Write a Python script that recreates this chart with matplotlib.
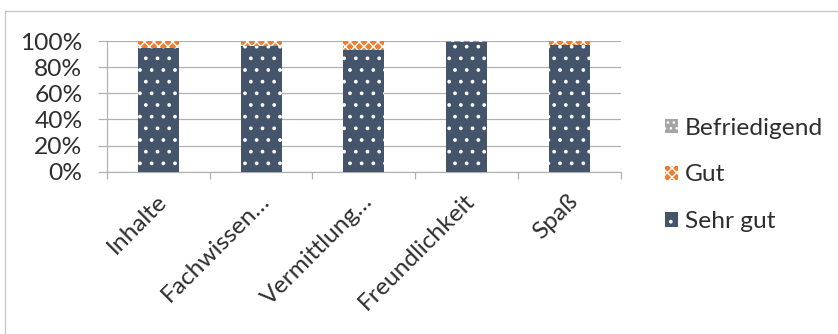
import numpy as np
import matplotlib
matplotlib.use("Agg")
import matplotlib.pyplot as plt
from matplotlib.transforms import ScaledTranslation
from matplotlib.lines import Line2D

# Survey ratings per category (share of answers)
categories = ["Inhalte", "Fachwissen…", "Vermittlung…", "Freundlichkeit", "Spaß"]
sehr_gut = [0.95, 0.96, 0.93, 0.99, 0.97]
gut = [0.05, 0.04, 0.07, 0.01, 0.03]
befriedigend = [0.0, 0.0, 0.0, 0.0, 0.0]
series_names = ["Sehr gut", "Gut", "Befriedigend"]
y_ticks = [0, 0.2, 0.4, 0.6, 0.8, 1.0]
y_tick_labels = ["0%", "20%", "40%", "60%", "80%", "100%"]

DPI = 140
W, H = 838, 334


def pt(px):
    """Convert a size in output pixels to points."""
    return px * 72.0 / DPI


plt.rcParams["font.family"] = ["Lato", "DejaVu Sans"]
plt.rcParams["hatch.linewidth"] = pt(1.4)
TEXT = "#2e2e2e"
GRID = "#b0b0b0"
FS = pt(24.5)
LW = pt(1.2)

fig = plt.figure(figsize=(W / DPI, H / DPI), dpi=DPI)

# outer chart frame
for xs, ys in (([5 / W, 1.0], [1 - 11 / H, 1 - 11 / H]), ([5 / W, 5 / W], [1 - 11 / H, 0.0])):
    fig.add_artist(Line2D(xs, ys, transform=fig.transFigure, color="#c4c4c4", lw=LW))

x0, x1, ytop, ybot = 107, 620.7, 41, 171.7
ax = fig.add_axes([x0 / W, (H - ybot) / H, (x1 - x0) / W, (ybot - ytop) / H])

x = np.arange(len(categories))
width = 0.40
b1 = ax.bar(x, sehr_gut, width, color="#44546A", edgecolor="white", linewidth=0,
            hatch="..", label=series_names[0], zorder=3)
b2 = ax.bar(x, gut, width, bottom=sehr_gut, color="#ED7D31", edgecolor="white",
            linewidth=0, hatch="xxxxx", label=series_names[1], zorder=3)
bottom3 = np.array(sehr_gut) + np.array(gut)
b3 = ax.bar(x, befriedigend, width, bottom=bottom3, color="#A5A5A5", edgecolor="white",
            linewidth=0, hatch="....", label=series_names[2], zorder=3)

ax.set_xlim(-0.5, len(categories) - 0.5)
ax.set_ylim(0, 1.0)
ax.set_yticks(y_ticks)
ax.set_yticklabels(y_tick_labels)
ax.yaxis.grid(True, color=GRID, lw=LW, zorder=0)
ax.set_axisbelow(True)

# category boundaries carry the tick marks
ax.set_xticks(np.arange(-0.5, len(categories), 1.0))
ax.set_xticklabels([])
ax.tick_params(axis="x", length=pt(7), width=LW, color=GRID, direction="out")
ax.tick_params(axis="y", length=pt(9.5), width=LW, color=GRID, direction="out",
               pad=pt(15), labelsize=FS, labelcolor=TEXT)

for s in ("top", "right"):
    ax.spines[s].set_visible(False)
for s in ("left", "bottom"):
    ax.spines[s].set_color(GRID)
    ax.spines[s].set_linewidth(LW)

# rotated category labels
for i, name in enumerate(categories):
    off = ScaledTranslation(5 / DPI, -26 / DPI, fig.dpi_scale_trans)
    ax.text(i, 0, name, transform=ax.get_xaxis_transform() + off, rotation=45,
            rotation_mode="anchor", ha="right", va="center", fontsize=FS, color=TEXT)

leg = fig.legend(handles=[b3, b2, b1], labels=series_names[::-1], loc="center left",
                 bbox_to_anchor=(665 / W, (H - 175) / H), frameon=False, fontsize=FS,
                 labelcolor=TEXT, handlelength=0.52, handleheight=0.52,
                 handletextpad=0.3, labelspacing=1.05, borderpad=0, borderaxespad=0)

fig.savefig("out.png", dpi=DPI)
